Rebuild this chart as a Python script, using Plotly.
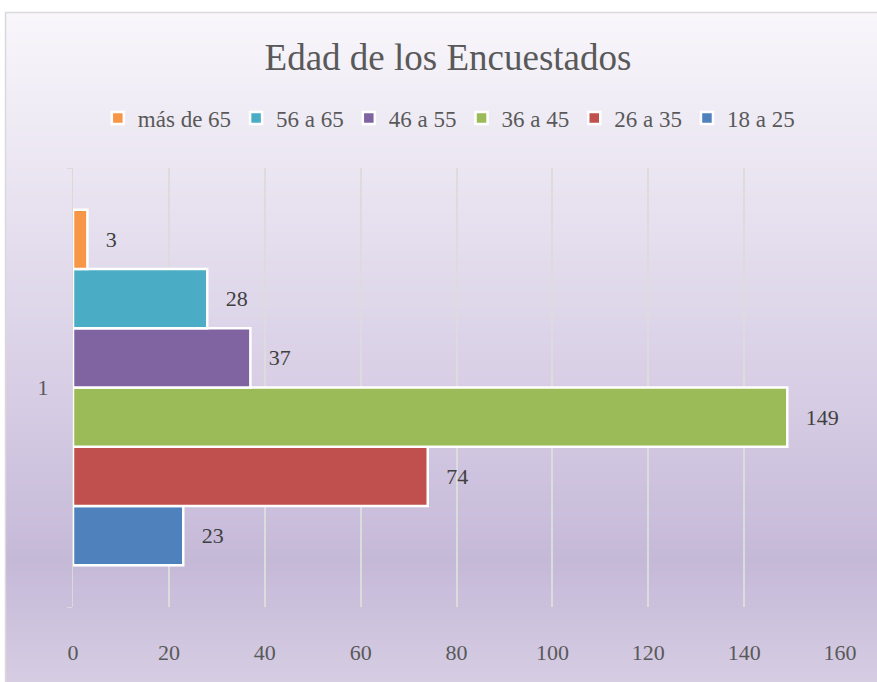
import plotly.graph_objects as go

# data (bottom to top)
categories = ["1"]
groups = ["18 a 25", "26 a 35", "36 a 45", "46 a 55", "56 a 65", "más de 65"]
counts = [23, 74, 149, 37, 28, 3]
colors = ["#4F81BD", "#C0504D", "#9BBB59", "#8064A2", "#4BACC6", "#F79646"]
x_ticks = [0, 20, 40, 60, 80, 100, 120, 140, 160]

W, H = 877, 682
L, R, T, B = 73, 37, 168, 75
pw, ph = W - L - R, H - T - B


def px_x(p):
    return (p - L) / pw


def px_y(p):
    return (H - B - p) / ph


def mix(c1, c2, t):
    return "rgb(%d,%d,%d)" % tuple(round(a + (b - a) * t) for a, b in zip(c1, c2))


# gradient stops (pixel y, colour) for the chart background
stops = [(12, (248, 246, 251)), (200, (232, 226, 240)), (400, (214, 204, 228)),
         (560, (197, 185, 216)), (682, (214, 205, 227))]

shapes = []
step = 4
y = 12
while y < H:
    for (y0, c0), (y1, c1) in zip(stops, stops[1:]):
        if y0 <= y <= y1:
            col = mix(c0, c1, (y - y0) / (y1 - y0))
            break
    shapes.append(dict(type="rect", xref="paper", yref="paper", layer="below",
                       x0=px_x(5), x1=px_x(W), y0=px_y(y + step + 0.5), y1=px_y(y),
                       fillcolor=col, line=dict(width=0)))
    y += step

shapes.append(dict(type="rect", xref="paper", yref="paper", layer="below",
                   x0=px_x(5.5), x1=px_x(W + 2), y0=px_y(H + 2), y1=px_y(12.5),
                   fillcolor="rgba(0,0,0,0)", line=dict(color="#d9d9d9", width=1.5)))

fig = go.Figure()
for g, v, c in zip(groups, counts, colors):
    fig.add_trace(go.Bar(
        y=categories, x=[v], name=g, orientation="h",
        marker=dict(color=c, line=dict(color="white", width=2.5)),
        text=["\u00a0\u00a0\u2009" + str(v)], textposition="outside",
        textfont=dict(size=22, color="#404040"),
        constraintext="none", cliponaxis=False,
    ))

fig.update_layout(
    width=W, height=H,
    margin=dict(l=L, r=R, t=T, b=B),
    paper_bgcolor="white",
    plot_bgcolor="rgba(0,0,0,0)",
    font=dict(family="Liberation Serif", color="#595959"),
    barmode="group", bargap=0.19, bargroupgap=0,
    shapes=shapes,
    title=dict(text="Edad de los Encuestados", font=dict(size=37, color="#595959"),
               x=448 / W, xanchor="center", xref="container",
               y=1 - 57 / H, yanchor="middle", yref="container"),
    legend=dict(orientation="h", traceorder="reversed", x=0.49, xanchor="center",
                y=px_y(118), yanchor="middle", font=dict(size=23, color="#595959"),
                bgcolor="rgba(0,0,0,0)", itemclick=False),
    xaxis=dict(range=[0, 160], tickvals=x_ticks, showgrid=True, gridcolor="#dcdcdc",
               gridwidth=1.5, zeroline=False, showline=False, ticks="",
               ticklabelstandoff=30, tickfont=dict(size=22, color="#595959")),
    yaxis=dict(type="category", showline=True, linecolor="#d9d9d9", linewidth=1.2,
               ticks="outside", tickson="boundaries", ticklen=5, tickcolor="#d9d9d9",
               ticklabelstandoff=19, tickfont=dict(size=22, color="#595959"),
               showgrid=False),
)

fig.write_html("out.html", config={"displayModeBar": False},
               post_script="document.body.style.margin='0px';")
